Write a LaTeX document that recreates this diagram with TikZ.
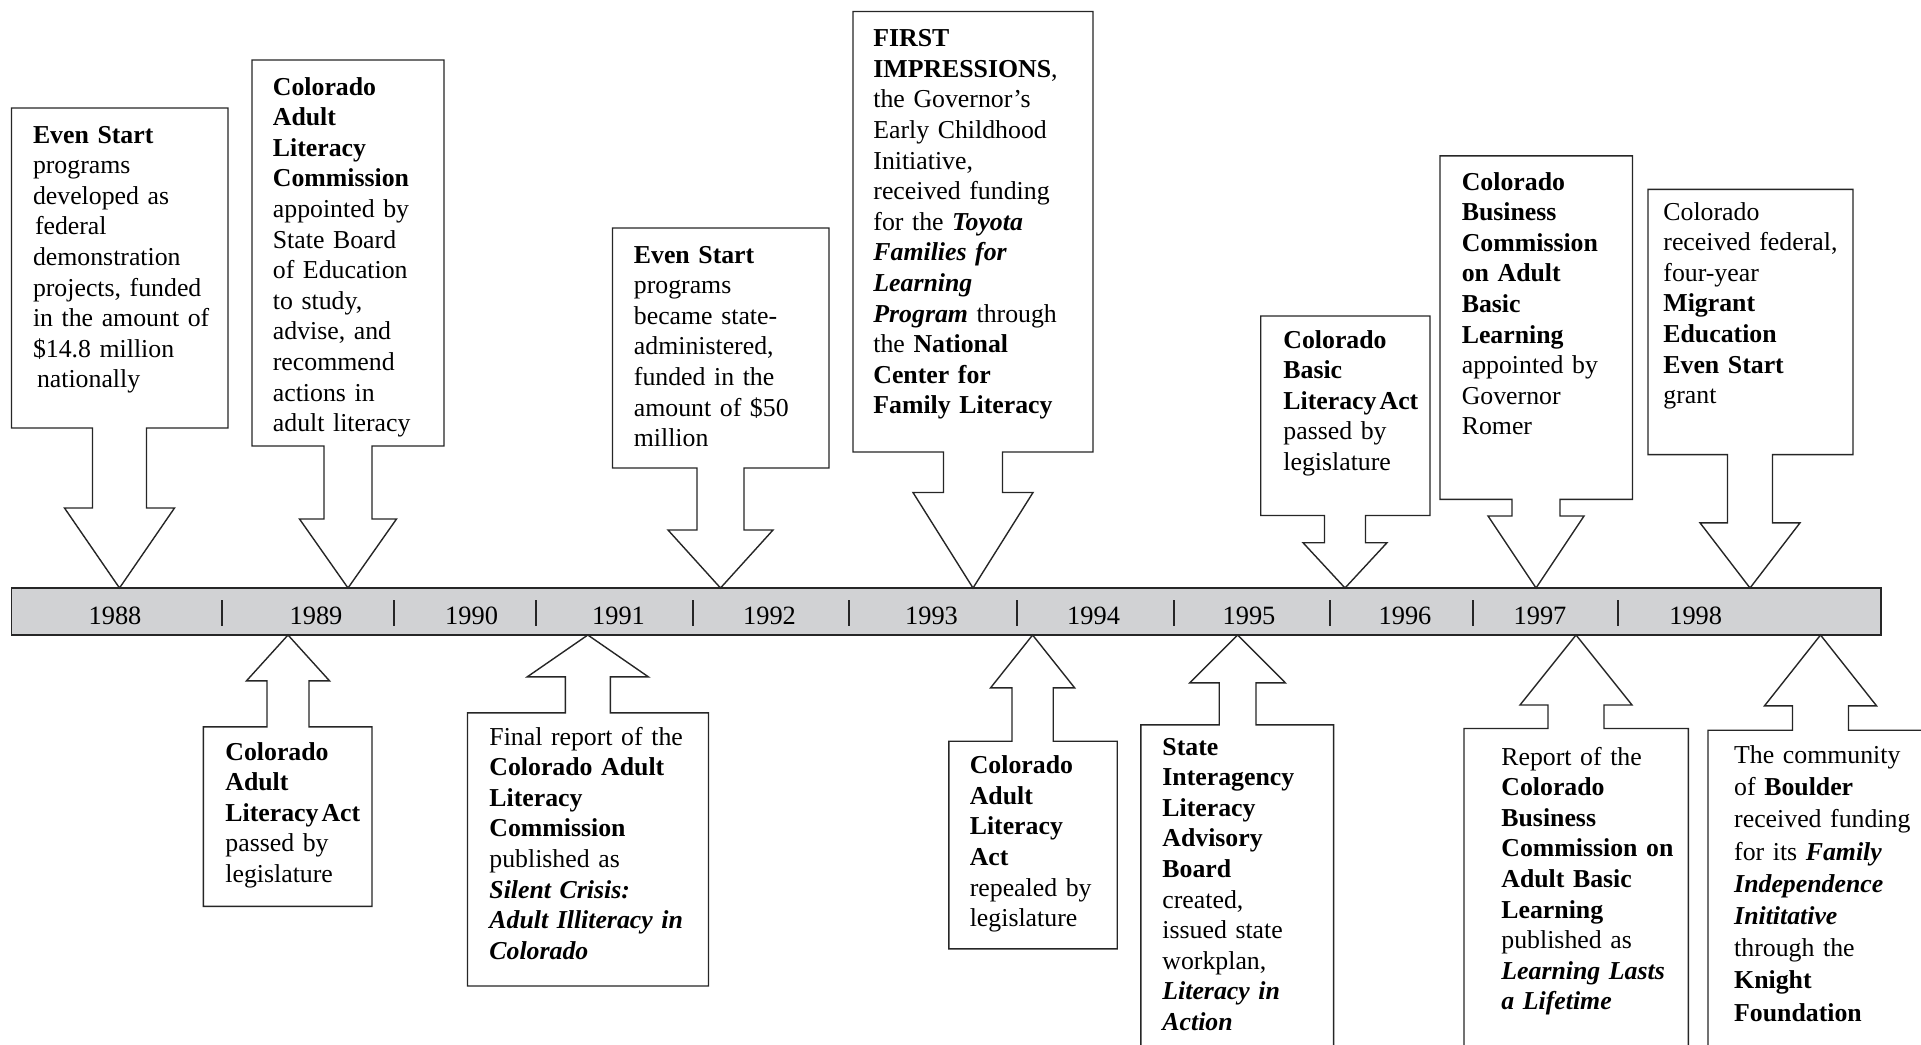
\documentclass[tikz,border=0pt]{standalone}
\usepackage{fontspec}
\setmainfont{Liberation Serif}
\usepackage{tikz}
\usetikzlibrary{calc,positioning}
\definecolor{bargray}{RGB}{209,210,212}
\tikzstyle{eventshape}=[draw=black!85,fill=white,line width=0.7pt,line join=miter]
\tikzstyle{eventtext}=[anchor=base west,inner sep=0pt,align=left,text width=130pt,font=\fontsize{12.9}{15.3}\selectfont]
\tikzstyle{yearlabel}=[anchor=base,inner sep=0pt,font=\fontsize{13.2}{15.3}\selectfont]
% #1 tip x, #2 shaft half width, #3 head half width, #4 head y, #5-#8 box left, top, right, bottom
\newcommand{\downevent}[8]{%
  \draw[eventshape] (#5,#6) -- (#7,#6) -- (#7,#8) -- ({#1+#2},#8) -- ({#1+#2},#4) -- ({#1+#3},#4)
    -- (#1,588) -- ({#1-#3},#4) -- ({#1-#2},#4) -- ({#1-#2},#8) -- (#5,#8) -- cycle;}
\newcommand{\upevent}[8]{%
  \draw[eventshape] (#5,#6) -- ({#1-#2},#6) -- ({#1-#2},#4) -- ({#1-#3},#4) -- (#1,635)
    -- ({#1+#3},#4) -- ({#1+#2},#4) -- ({#1+#2},#6) -- (#7,#6) -- (#7,#8) -- (#5,#8) -- cycle;}

\begin{document}
\begin{tikzpicture}[x=0.5pt,y=-0.5pt]
\clip (0,0) rectangle (1921,1044);

% time line
\draw[draw=black!85,fill=bargray,line width=0.7pt] (11.5,588) rectangle (1881,635);
\foreach \x in {222,393.5,536,692.5,849,1017,1173.6,1330,1473,1618}
  \draw[black!85,line width=1pt] (\x,600) -- (\x,626);
\foreach \x/\yr in {115/1988,316/1989,471.6/1990,618.5/1991,769.5/1992,931.5/1993,
                    1093.6/1994,1249/1995,1405/1996,1540/1997,1695.7/1998}
  \node[yearlabel] (y\yr) at (\x,624) {\yr};

% events above the line
\downevent{119.5}{27}{55}{508}{11.5}{108}{228}{428}
\node[eventtext] (evenstart) at (32.6,143) {\textbf{Even Start}\\programs\\developed as\\\hspace*{1pt}federal\\demonstration\\projects, funded\\in the amount of\\\$14.8 million\\\hspace*{2pt}nationally};

\downevent{348}{24}{48.5}{519}{252}{60}{444}{446}
\node[eventtext] (commission) at (272.5,95) {\textbf{Colorado}\\\textbf{Adult}\\\textbf{Literacy}\\\textbf{Commission}\\appointed by\\State Board\\of Education\\to study,\\advise, and\\recommend\\actions in\\adult literacy};

\downevent{720.5}{23.5}{52.5}{530}{612.5}{228}{829}{468}
\node[eventtext] (evenstate) at (633.5,263) {\textbf{Even Start}\\programs\\became state-\\administered,\\funded in the\\amount of \$50\\million};

\downevent{973}{29.5}{60}{492.5}{853}{11.5}{1093}{452}
\node[eventtext] (firstimpr) at (873,46.7) {\textbf{FIRST}\\\textbf{IMPRESSIONS},\\the Governor’s\\Early Childhood\\Initiative,\\received funding\\for the \textbf{\textit{Toyota}}\\\textbf{\textit{Families for}}\\\textbf{\textit{Learning}}\\\textbf{\textit{Program}} through\\the \textbf{National}\\\textbf{Center for}\\\textbf{Family Literacy}};

\downevent{1345}{20.5}{42}{542.7}{1260.7}{316}{1430}{515.5}
\node[eventtext] (basicact) at (1283,348) {\textbf{Colorado}\\\textbf{Basic}\\\textbf{Literacy\hspace{0.12em}Act}\\passed by\\legislature};

\downevent{1536}{24}{48}{516}{1440}{155.8}{1632.5}{499.4}
\node[eventtext] (business) at (1461.4,190) {\textbf{Colorado}\\\textbf{Business}\\\textbf{Commission}\\\textbf{on Adult}\\\textbf{Basic}\\\textbf{Learning}\\appointed by\\Governor\\Romer};

\downevent{1750}{22.5}{50}{522.8}{1648}{189.4}{1853}{454.6}
\node[eventtext] (migrant) at (1663,220) {Colorado\\received federal,\\four-year\\\textbf{Migrant}\\\textbf{Education}\\\textbf{Even Start}\\grant};

% events below the line
\upevent{288}{21}{41.5}{680.8}{203.4}{726.9}{372}{906.4}
\node[eventtext] (adultact) at (225,760) {\textbf{Colorado}\\\textbf{Adult}\\\textbf{Literacy\hspace{0.12em}Act}\\passed by\\legislature};

\upevent{587.8}{22.5}{60.5}{676.8}{467.5}{712.8}{708.5}{986}
\node[eventtext] (finalreport) at (489,745) {Final report of the\\\textbf{Colorado Adult}\\\textbf{Literacy}\\\textbf{Commission}\\published as\\\textbf{\textit{Silent Crisis:}}\\\textbf{\textit{Adult Illiteracy in}}\\\textbf{\textit{Colorado}}};

\upevent{1032.6}{20.6}{42}{687.8}{948.8}{741.2}{1117.2}{948.8}
\node[eventtext] (repealed) at (969.4,773.6) {\textbf{Colorado}\\\textbf{Adult}\\\textbf{Literacy}\\\textbf{Act}\\repealed by\\legislature};

\upevent{1237.6}{18.4}{47.7}{682.8}{1140.8}{724.8}{1333.6}{1100}
\node[eventtext] (interagency) at (1162,755) {\textbf{State}\\\textbf{Interagency}\\\textbf{Literacy}\\\textbf{Advisory}\\\textbf{Board}\\created,\\issued state\\workplan,\\\textbf{\textit{Literacy in}}\\\textbf{\textit{Action}}};

\upevent{1576}{28}{56}{705}{1464}{728.5}{1688.3}{1100}
\node[eventtext] (lifetime) at (1501,765) {Report of the\\\textbf{Colorado}\\\textbf{Business}\\\textbf{Commission on}\\\textbf{Adult Basic}\\\textbf{Learning}\\published as\\\textbf{\textit{Learning Lasts}}\\\textbf{\textit{a Lifetime}}};

\upevent{1820.5}{28}{56}{705.8}{1708}{730.2}{1980}{1100}
\node[eventtext,font=\fontsize{12.9}{16.1}\selectfont] (boulder) at (1733.8,763.5) {The community\\of \textbf{Boulder}\\received funding\\for its \textbf{\textit{Family}}\\\textbf{\textit{Independence}}\\\textbf{\textit{Inititative}}\\through the\\\textbf{Knight}\\\textbf{Foundation}};
\end{tikzpicture}
\end{document}
